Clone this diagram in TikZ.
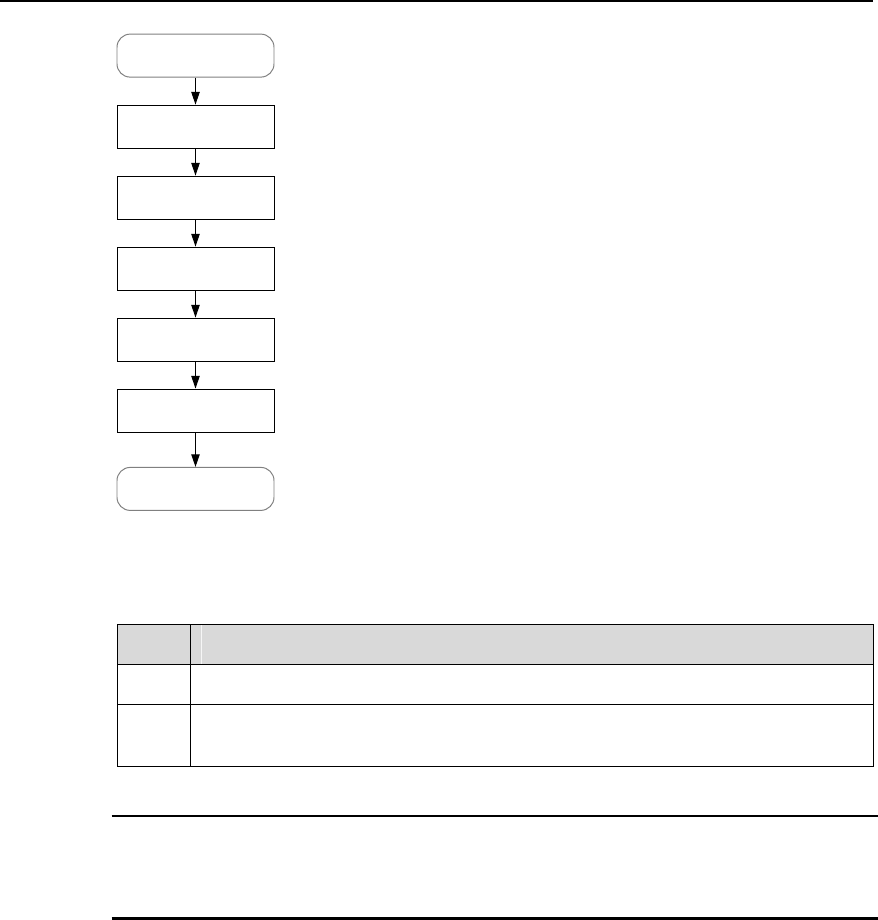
\documentclass[tikz,border=0pt]{standalone}
\usepackage{tikz}
\usetikzlibrary{arrows.meta,positioning}
\definecolor{gray}{rgb}{0.5,0.5,0.5}
\definecolor{headgray}{rgb}{0.851,0.851,0.851}

\begin{document}
\begin{tikzpicture}[
    node distance=0.675cm,
    stepbox/.style={draw=black, line width=0.7pt, minimum width=3.925cm, minimum height=1.075cm, inner sep=0pt},
    endbox/.style={stepbox, draw=gray, rounded corners=0.33cm},
    flow/.style={-{Triangle[length=9pt,width=6pt]}, line width=0.7pt, black},
    rule/.style={line width=1.7pt, black}
]
            \useasboundingbox (0,0) rectangle (21.95,-23);

            % 顶部页眉线
            \draw[line width=1.4pt] (0,-0.025)--(21.825,-0.025);

            % 流程图
            \node[endbox] (start) at (4.8875,-1.39) {};
            \node[stepbox, below=of start] (s1) {};
            \node[stepbox, below=of s1] (s2) {};
            \node[stepbox, below=of s2] (s3) {};
            \node[stepbox, below=of s3] (s4) {};
            \node[stepbox, below=of s4] (s5) {};
            \node[endbox, below=0.86cm of s5] (stop) {};

            % 箭头
            \draw[flow] (start)--(s1);
            \draw[flow] (s1)--(s2);
            \draw[flow] (s2)--(s3);
            \draw[flow] (s3)--(s4);
            \draw[flow] (s4)--(s5);
            \draw[flow] (s5)--(stop);

            % 表格表头
            \fill[headgray] (2.9325,-15.6075) rectangle (21.84,-16.6075);
            \draw[white!75!headgray, line width=0.7pt] (5.0425,-15.62)--(5.0425,-16.595);

            % 表格线
            \draw[line width=0.7pt] (2.9325,-15.6075) rectangle (21.84,-19.1675);
            \foreach \y in {-16.6075,-17.6075}
                \draw[line width=0.7pt] (2.9325,\y)--(21.84,\y);
            \draw[line width=0.7pt] (4.7575,-15.6075)--(4.7575,-19.1675);

            % 说明框上下线
            \draw[rule] (2.7925,-20.4)--(21.95,-20.4);
            \draw[rule] (2.7925,-22.9575)--(21.95,-22.9575);
        \end{tikzpicture}
\end{document}
